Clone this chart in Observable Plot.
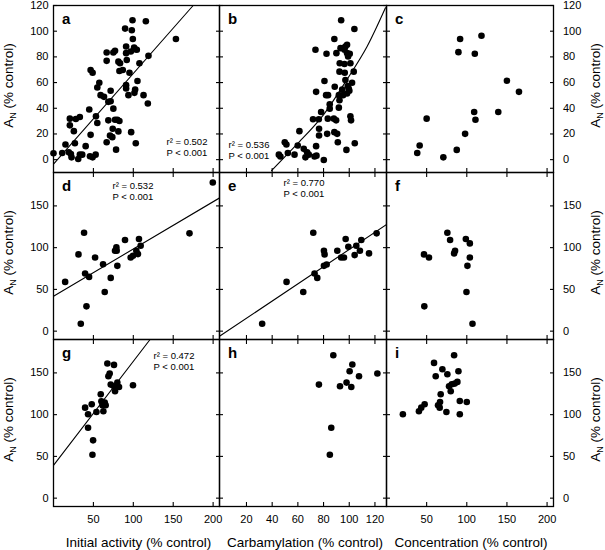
<!DOCTYPE html>
<html><head><meta charset="utf-8">
<script src="https://cdn.jsdelivr.net/npm/d3@7"></script>
<script src="https://cdn.jsdelivr.net/npm/@observablehq/plot@0.6"></script>
<style>
html,body{margin:0;padding:0;background:#fff;overflow:hidden;}
#chart{position:relative;width:605px;height:550px;font-family:"Liberation Sans",Arial,Helvetica,sans-serif;}
#chart svg{position:absolute;}
</style></head><body><div id="chart"></div>
<script>
// ---- data ----
const panelLetters = ["a","b","c","d","e","f","g","h","i"];
const xTitles = ["Initial activity (% control)", "Carbamylation (% control)", "Concentration (% control)"];
const yTitleMain = "A";
const yTitleSub = "N";
const yTitleRest = " (% control)";

const aX = [0,10.9,15,19.2,20.5,20.5,21.8,22.6,25.5,26.8,28,31,33,33,36,40.3,44.8,45.7,46.5,46.5,49,49,52.8,53.2,54.9,54.9,57.4,59,63.3,66.6,66.6,66.6,68.7,68.7,70.8,71.6,71.6,73.7,74.2,75,75,77.1,78.4,77.1,80,82.6,81.3,81.3,83.4,82.6,86.8,89.7,91,91,91,91,91.8,93.9,95.2,96.9,98.1,99,99.4,97.3,101,102.3,101.4,102.3,104.4,103.1,105.2,107.7,112.8,115.7,118.2,119,153.4];
const aY = [5,5.2,11.8,5.8,26.7,31.9,4.4,1.8,22.2,12.8,31.6,0.5,3.9,33.2,3.9,10.5,39,2.6,19.3,69.8,67.7,1.8,3.9,33.7,28.5,56.2,59.9,50.2,48.9,76.9,83.4,13.6,45,30.6,18.8,45.5,53.6,17.5,24.1,39.7,83.4,84.7,7.8,31.1,31.1,30.1,22,76.3,75,69,69.8,102,88.1,82.9,58,55.4,77.6,50.2,67.7,84.2,100.7,108.5,93.9,21.4,87.3,86,52,54.6,85.5,12.8,61.2,75,50.2,107.7,43.7,80.8,93.9];
const bX = [45.2,46.4,49.8,51.1,52.2,57.4,59.9,61.2,64.6,65.9,67.2,68.5,71.8,73,73.7,74.2,74.2,74.5,76.3,76.5,76.5,78.1,80.2,80.7,82.3,82,82.8,83.3,83.5,84.8,84.8,88,88.4,88.7,88.4,90,89.8,90.6,91.1,91.9,91.9,92.4,92.6,92.4,93.2,93.7,94.5,95.8,95.2,96.3,96.3,96.5,97,97,97.8,98.3,98.3,98.8,99.6,100.1,100.4,100.9,100.9,101.4,103.5,104,104.3,102.2,98.3,99.1];
const bY = [3.9,2.4,13.6,11.8,5.2,3.9,11,22.2,8.4,1.8,5.8,3.9,31.4,2.4,85.5,52.8,10.5,3.1,31.4,24.1,18.8,37.1,-0.3,61.2,82.4,50.2,20.1,31.9,50.2,39.7,43.1,31.9,93.9,56.7,21.4,82.9,30.6,20.1,13.6,50.2,40.5,46.3,75,68.5,86.8,108.5,54.6,86.8,50.2,85.5,74.5,67.7,62,88.1,7.6,82.9,51.5,57.3,55.4,53.6,82.4,75,33.7,30.6,68.5,101.7,12.8,59.9,89.4,80.3];
const cX = [38.3,41.3,50,70.8,87.5,89.6,91.7,97.9,109.2,110.8,110,118.3,139.2,150,165];
const cY = [5.2,11,31.9,1.8,7.6,83.7,93.9,20.1,37.1,31.1,82.4,96.5,37.1,61.4,52.8];
const dX = [14.6,31.3,34.2,38.3,39.6,41.3,44.6,52.1,62.1,64.2,71.7,77.1,78.8,79.2,80,89.6,96.7,99.6,103.8,105.8,107.1,109.2,170.4,199.6];
const dY = [59,91.9,8.8,117.9,69,29.7,65,88.2,80.2,46.9,63.8,96.3,100.3,96.3,78.2,109.1,88.2,90.3,96.3,92.3,110.3,102.3,117.1,178.1];
const eX = [32.2,51.2,64.2,72,73,75.1,80.3,80.8,80.3,82.4,90.7,93.7,95.9,97.2,99.3,104.2,105.5,108.3,109.4,115.4,121.3];
const eY = [8.8,59,46.9,117.9,69,63.8,96.3,91.9,78.2,79.8,96.3,88.2,88.2,110.3,101.1,91.1,102.3,96.3,109.1,93.1,117.1];
const fX = [46.7,52.9,47.1,75.8,79.2,84.2,85.4,98.8,103.8,103.8,100.8,99.6,107.1];
const fY = [91.9,88.2,29.7,117.9,109.1,93.1,96.3,110.3,105.1,88.2,78.2,46.9,8.8];
const gX = [39.6,43.3,43.3,47.9,49.6,48.8,53.8,59.2,60,61.3,62.5,64.2,65.4,67.5,68.8,70.4,71.7,75.8,75.8,77.1,80,82.1,99.6];
const gY = [108.4,100.4,84.4,112.4,69.2,52,103.2,124.4,116,111.2,104,114.4,111.2,161.2,146,149.2,136,159.6,134,128,138.4,133.2,135.2];
const hX = [76.4,87.6,86,84.9,92.8,97.9,100.3,101.6,102.4,107.6,121.9];
const hY = [136,171.2,84.4,52,134,138.4,152,133.2,160,146,149.2];
const iX = [20.4,40.4,43.3,47.5,59.2,61.3,64.2,66.7,67.5,66.25,69.6,74.6,75.8,77.9,80,81.3,84.2,85,88.3,89.6,91.3,91.3,100];
const iY = [100.4,104,108.4,112.4,162,146,111.2,115.2,124.4,108.4,154.4,103.2,148.4,134,128,136.4,171.2,137.2,139.2,152,116.4,100.4,115.2];

// fitted lines / curve, read as points from the picture
const aFitX = [0, 175],  aFitY = [-3.4, 120];
const bFitX = [39.5, 62, 80.2, 98.3, 113.9, 128.2], bFitY = [-8.6, 14.9, 35.3, 62.5, 88.1, 118.2];
const dFitX = [0, 208],  dFitY = [41.8, 159.5];
const eFitX = [-1, 129], eFitY = [-6.2, 127.7];
const gFitX = [0, 121],  gFitY = [39.2, 190];

const rSquared = ["0.502","0.536",null,"0.532","0.770",null,"0.472",null,null];
const pText = "P < 0.001";

// tick values
const colTicks = [[50,100,150,200],[20,40,60,80,100,120],[50,100,150,200]];
const rowTicks = [[0,20,40,60,80,100,120],[0,50,100,150],[0,50,100,150]];

// ---- layout ----
const colDomains = [[0,208],[-1,129],[0,208]];
const rowDomains = [[-10,120],[-10,190],[-10,190]];
const colEdges = [53,219,386,553];
const rowEdges = [5,172,339,506];
const M = 50;
const TK = 4;
const FONT = '"Liberation Sans", Arial, Helvetica, sans-serif';

const series = [[aX,aY],[bX,bY],[cX,cY],[dX,dY],[eX,eY],[fX,fY],[gX,gY],[hX,hY],[iX,iY]];
const fits = {0:[aFitX,aFitY,"linear"],1:[bFitX,bFitY,"natural"],3:[dFitX,dFitY,"linear"],4:[eFitX,eFitY,"linear"],6:[gFitX,gFitY,"linear"]};
// stat text placement (offset from frame top-left), styling only
const statPos = {0:[113,131],1:[9,134],3:[59,8],4:[64,5],6:[100,11]};

const chart = document.getElementById("chart");

series.forEach(([xs, ys], k) => {
  const r = Math.floor(k/3), c = k % 3;
  const x0 = colEdges[c], x1 = colEdges[c+1], y0 = rowEdges[r], y1 = rowEdges[r+1];
  const pts = xs.map((v,i) => ({x: v, y: ys[i]}));
  const tickOpts = {fill: "none", stroke: "black", strokeWidth: 1.1, label: null, tickSize: TK};
  const marks = [
    Plot.frame({stroke: "black", strokeWidth: 1.3}),
    // inward ticks
    Plot.axisX({...tickOpts, ticks: colTicks[c], anchor: "bottom", dy: -TK}),
    Plot.axisY({...tickOpts, ticks: rowTicks[r], anchor: "left", dx: TK}),
    Plot.axisY({...tickOpts, ticks: rowTicks[r], anchor: "right", dx: -TK})
  ];
  if (r > 0) marks.push(Plot.axisX({...tickOpts, ticks: colTicks[c], anchor: "top", dy: TK}));
  if (c === 0) marks.push(Plot.axisY({ticks: rowTicks[r], anchor: "left", tickSize: 0, tickPadding: 5, fontSize: 11, label: null, fill: "black"}));
  if (c === 2) marks.push(Plot.axisY({ticks: rowTicks[r], anchor: "right", tickSize: 0, tickPadding: 9.5, fontSize: 11, label: null, fill: "black"}));
  if (r === 2) marks.push(Plot.axisX({ticks: colTicks[c], anchor: "bottom", tickSize: 0, tickPadding: 9, fontSize: 11, label: null, fill: "black"}));
  if (fits[k]) {
    const [fx, fy, curve] = fits[k];
    marks.push(Plot.line(fx.map((v,i) => ({x: v, y: fy[i]})), {x: "x", y: "y", stroke: "black", strokeWidth: 1.1, curve, clip: true}));
  }
  marks.push(Plot.dot(pts, {x: "x", y: "y", r: 3.3, fill: "black", stroke: "none"}));
  marks.push(Plot.text([panelLetters[k]], {frameAnchor: "top-left", dx: 8.5, dy: 7.5, text: d => d, textAnchor: "start", lineAnchor: "top", fontSize: 15, fontWeight: "bold", fill: "black"}));
  if (rSquared[k]) {
    const [sx, sy] = statPos[k];
    marks.push(Plot.text([`r² = ${rSquared[k]}\n${pText}`], {frameAnchor: "top-left", dx: sx, dy: sy, text: d => d, textAnchor: "start", lineAnchor: "top", fontSize: 9.5, lineHeight: 1.22, fill: "black"}));
  }
  const svg = Plot.plot({
    width: x1 - x0 + 2*M, height: y1 - y0 + 2*M,
    marginLeft: M, marginRight: M, marginTop: M, marginBottom: M,
    x: {domain: colDomains[c], axis: null},
    y: {domain: rowDomains[r], axis: null},
    style: {background: "transparent", overflow: "visible", fontFamily: FONT, fontSize: "11px", color: "black"},
    marks
  });
  svg.style.position = "absolute";
  svg.style.left = (x0 - M) + "px";
  svg.style.top = (y0 - M) + "px";
  chart.appendChild(svg);
});

// axis titles overlay
const NS = "http://www.w3.org/2000/svg";
const ov = document.createElementNS(NS, "svg");
ov.setAttribute("width", 605); ov.setAttribute("height", 550);
ov.style.left = "0px"; ov.style.top = "0px";
ov.setAttribute("font-family", FONT);
chart.appendChild(ov);
const xTitleCenters = [138.5, 305, 471];
xTitles.forEach((t, c) => {
  const el = document.createElementNS(NS, "text");
  el.setAttribute("x", xTitleCenters[c]); el.setAttribute("y", 546.5);
  el.setAttribute("text-anchor", "middle"); el.setAttribute("font-size", 13.5);
  el.textContent = t; ov.appendChild(el);
});
function yTitle(x, y) {
  const el = document.createElementNS(NS, "text");
  el.setAttribute("transform", `translate(${x},${y}) rotate(-90)`);
  el.setAttribute("text-anchor", "middle"); el.setAttribute("font-size", 13.5);
  const t1 = document.createElementNS(NS, "tspan"); t1.textContent = yTitleMain;
  const t2 = document.createElementNS(NS, "tspan"); t2.textContent = yTitleSub; t2.setAttribute("font-size", 9); t2.setAttribute("dy", 3);
  const t3 = document.createElementNS(NS, "tspan"); t3.textContent = yTitleRest; t3.setAttribute("dy", -3);
  el.appendChild(t1); el.appendChild(t2); el.appendChild(t3);
  ov.appendChild(el);
}
[0,1,2].forEach(r => {
  const cy = (rowEdges[r] + rowEdges[r+1]) / 2 - 3;
  yTitle(12.5, cy);
  yTitle(600, cy);
});
</script></body></html>
